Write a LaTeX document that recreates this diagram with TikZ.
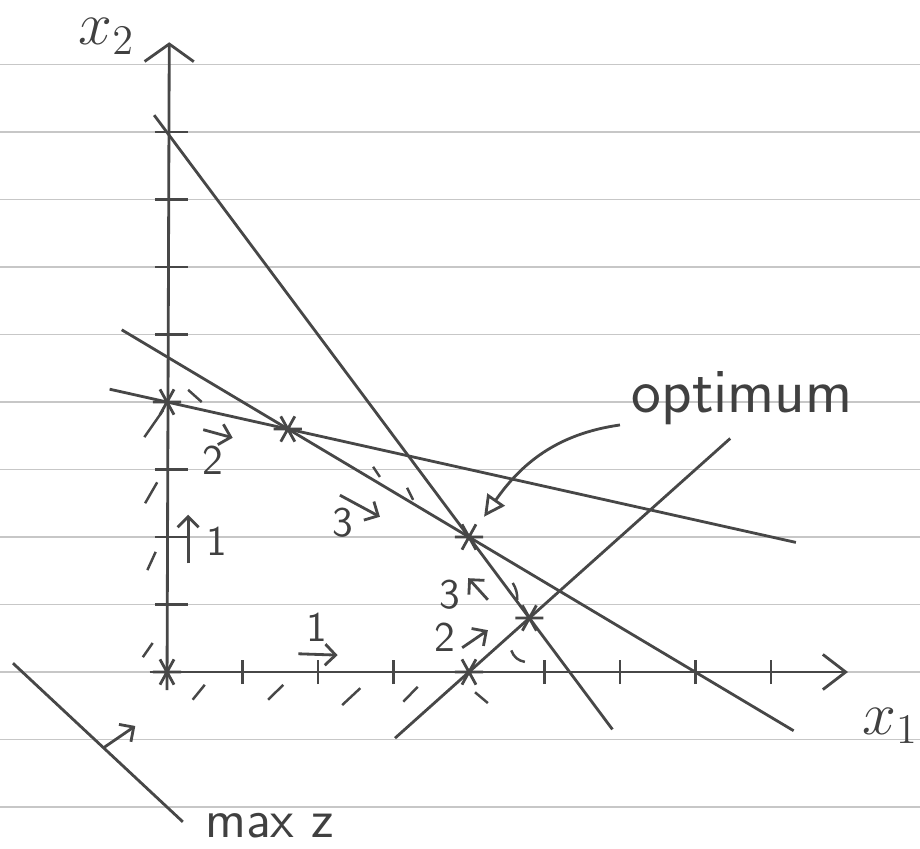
\documentclass[tikz,border=0pt]{standalone}
\usetikzlibrary{arrows.meta}
\tikzset{
  matita/.style={line width=0.8pt, draw=black!72},
  riga/.style={line width=0.4pt, draw=black!22},
  freccia/.style={matita, -{Straight Barb[length=3pt,width=6pt]}},
  tratto/.style={matita, line width=0.7pt},
  cifra/.style={text=black!75, font=\sffamily\fontsize{12}{14}\selectfont},
  scritta/.style={text=black!75, font=\sffamily\fontsize{18}{21}\selectfont},
  asse/.style={text=black!75, inner sep=0pt, anchor=base west, font=\fontsize{17}{20}\selectfont},
  ast/.pic={\draw[matita] (-4pt,0) -- (4pt,0) (-2pt,-3.6pt) -- (2pt,3.6pt) (-2pt,3.6pt) -- (2pt,-3.6pt);}
}

\begin{document}
\begin{tikzpicture}[x=0.755cm, y=0.675cm]
    \useasboundingbox (-2.212,-2.622) rectangle (9.974,9.956);
    % Righe del foglio
    \foreach \r in {-2,...,9}
        \draw[riga] (-2.212,\r) -- (9.974,\r);

    % Assi
    \draw[matita, -{Straight Barb[length=6.5pt,width=10pt]}] (-0.23,0) -- (9.02,0) coordinate (xfine);
    \draw[matita, -{Straight Barb[length=5pt,width=14pt]}] (0,-0.27) -- (0.03,9.33) coordinate (yfine);
    \foreach \i in {1,2,3,5,6,7,8}
        \draw[matita] (\i,-0.18) -- (\i,0.18);
    \foreach \i in {1,2,3,5,6,7,8}
        \draw[matita] (-0.16,\i) -- (0.28,\i);
    \node[asse] (xuno) at (9.2,-0.93) {$x_1$};
    \node[asse] (xdue) at (-1.18,9.29) {$x_2$};

    % Vincoli
    \draw[matita] (-0.17,8.25) -- (5.9,-0.85);
    \draw[matita] (-0.6,5.07) -- (8.3,-0.87);
    \draw[matita] (-0.76,4.19) -- (8.33,1.92);
    \draw[matita] (3.02,-0.98) -- (7.46,3.46);

    % Vertici
    \coordinate (O) at (0,0);
    \coordinate (A) at (0,4);
    \coordinate (B) at (1.6,3.6);
    \coordinate (opt) at (4,2);
    \coordinate (C) at (4.8,0.8);
    \coordinate (D) at (4,0);
    \foreach \p in {O,A,B,opt,C,D}
        \pic at (\p) {ast};

    % Tratteggio
    \draw[tratto] (-0.30,3.48) -- (-0.05,3.88);
    \draw[tratto] (-0.29,2.50) -- (-0.13,2.81);
    \draw[tratto] (-0.26,1.51) -- (-0.15,1.78);
    \draw[tratto] (-0.32,0.22) -- (-0.19,0.43);
    \draw[tratto] (0.34,-0.41) -- (0.50,-0.19);
    \draw[tratto] (1.34,-0.41) -- (1.54,-0.19);
    \draw[tratto] (2.32,-0.49) -- (2.56,-0.24);
    \draw[tratto] (3.13,-0.44) -- (3.32,-0.22);
    \draw[tratto] (4.08,-0.30) -- (4.25,-0.46);
    \draw[tratto] (0.28,4.18) -- (0.46,4.0);
    \draw[tratto] (2.73,3.04) -- (2.82,2.89);
    \draw[tratto] (3.18,2.73) -- (3.26,2.55);
    \draw[tratto] (4.58,1.32) to[bend left=15] (4.64,1.07);
    \draw[tratto] (4.56,0.32) to[bend right=30] (4.74,0.15);

    % Frecce dei vincoli
    \draw[freccia] (1.74,0.27) -- (2.26,0.25);
    \node[cifra] (n1a) at (1.99,0.67) {1};
    \draw[freccia] (0.28,1.61) -- (0.28,2.33);
    \node[cifra] (n1b) at (0.66,1.94) {1};
    \draw[freccia] (0.48,3.59) -- (0.87,3.47);
    \node[cifra] (n2a) at (0.61,3.14) {2};
    \draw[freccia] (2.29,2.62) -- (2.82,2.30);
    \node[cifra] (n3a) at (2.33,2.21) {3};
    \draw[freccia] (4.25,1.07) -- (3.99,1.39);
    \node[cifra] (n3b) at (3.75,1.14) {3};
    \draw[freccia] (3.91,0.36) -- (4.25,0.62);
    \node[cifra] (n2b) at (3.68,0.52) {2};

    % Funzione obiettivo
    \draw[matita] (-2.04,0.13) -- (0.21,-2.22);
    \draw[freccia] (-0.85,-1.13) -- (-0.42,-0.8);
    \node[scritta, inner sep=0pt, anchor=base west, font=\sffamily\fontsize{15}{18}\selectfont] (maxz) at (0.5,-2.45) {max z};

    % Ottimo
    \node[scritta] (ottimo) at (7.62,4.05) {optimum};
    \coordinate (coda) at (6.0,3.66);
    \coordinate (punta) at (4.2,2.3);
    \draw[matita, -{Triangle[open,length=6pt,width=6pt]}] (coda) to[out=188,in=55] (punta);
\end{tikzpicture}
\end{document}
